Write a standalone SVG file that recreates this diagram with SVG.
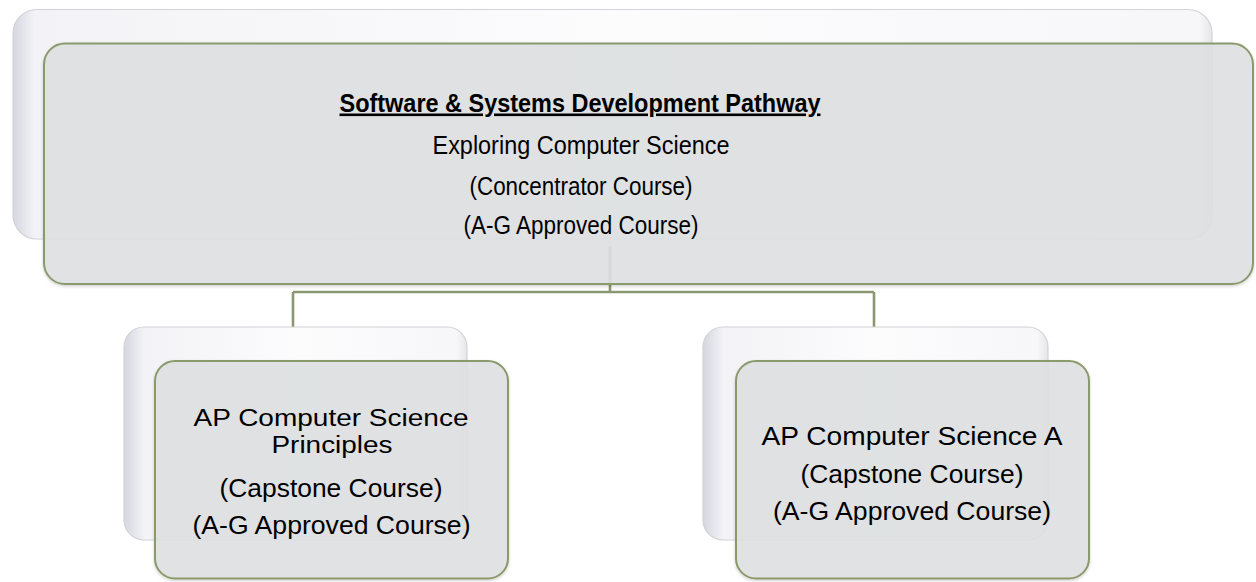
<svg xmlns="http://www.w3.org/2000/svg" width="1256" height="582" viewBox="0 0 1256 582">
  <defs>
    <linearGradient id="backH" x1="0" y1="0" x2="1" y2="0">
      <stop offset="0" stop-color="#d6d6e0"/>
      <stop offset="0.018" stop-color="#f3f3f7"/>
      <stop offset="0.5" stop-color="#fcfcfd"/>
      <stop offset="0.99" stop-color="#f7f7f9"/>
      <stop offset="1" stop-color="#e6e6ea"/>
    </linearGradient>
    <linearGradient id="backHs" x1="0" y1="0" x2="1" y2="0">
      <stop offset="0" stop-color="#d6d6e0"/>
      <stop offset="0.06" stop-color="#f3f3f7"/>
      <stop offset="0.5" stop-color="#fcfcfd"/>
      <stop offset="0.97" stop-color="#f7f7f9"/>
      <stop offset="1" stop-color="#e6e6ea"/>
    </linearGradient>
    <filter id="sh" x="-5%" y="-5%" width="110%" height="115%">
      <feDropShadow dx="0" dy="1.5" stdDeviation="1.5" flood-color="#000" flood-opacity="0.18"/>
    </filter>
  </defs>
  <style>
    .back { stroke: #d2d2d8; stroke-width: 1.2; }
    .front { fill: #dfe1e2; fill-opacity: 0.9; stroke: #8b9a6c; stroke-width: 2; }
    .t { font-family: "Liberation Sans", Arial, sans-serif; fill: #000; text-anchor: middle; }
    .big { font-size: 26px; }
    .title { font-weight: bold; text-decoration: underline; }
    .sm { font-size: 25px; }
    .tight { font-size: 23px; }
    .conn { fill: none; stroke: #8a9770; stroke-width: 2.6; }
  </style>
  <rect width="1256" height="582" fill="#ffffff"/>

  <g id="connectors">
    <path class="conn" d="M610,246 V292 M293,292 H874 M293,292 V327 M874,292 V327"/>
  </g>

  <g id="node-top">
    <rect class="back" x="13" y="9.5" width="1199" height="229.5" rx="24" fill="url(#backH)"/>
    <rect class="front" x="44" y="43.5" width="1209" height="240.5" rx="21" filter="url(#sh)"/>
    <text class="t big title" x="580" y="111.5" textLength="481" lengthAdjust="spacingAndGlyphs">Software &amp; Systems Development Pathway</text>
    <text class="t big" x="581" y="153.5" textLength="297" lengthAdjust="spacingAndGlyphs">Exploring Computer Science</text>
    <text class="t big" x="581" y="195" textLength="223" lengthAdjust="spacingAndGlyphs">(Concentrator Course)</text>
    <text class="t big" x="581" y="234" textLength="235" lengthAdjust="spacingAndGlyphs">(A-G Approved Course)</text>
  </g>

  <g id="node-apcsp">
    <rect class="back" x="124" y="327" width="343" height="213" rx="20" fill="url(#backHs)"/>
    <rect class="front" x="155" y="361" width="353" height="217.5" rx="20" filter="url(#sh)"/>
    <text class="t tight" x="331" y="426" textLength="275" lengthAdjust="spacingAndGlyphs">AP Computer Science</text>
    <text class="t tight" x="332" y="453" textLength="121" lengthAdjust="spacingAndGlyphs">Principles</text>
    <text class="t sm" x="331" y="497" textLength="223" lengthAdjust="spacingAndGlyphs">(Capstone Course)</text>
    <text class="t sm" x="331.5" y="534" textLength="278" lengthAdjust="spacingAndGlyphs">(A-G Approved Course)</text>
  </g>

  <g id="node-apcsa">
    <rect class="back" x="703" y="327" width="345" height="213" rx="20" fill="url(#backHs)"/>
    <rect class="front" x="736" y="361" width="353" height="217.5" rx="20" filter="url(#sh)"/>
    <text class="t sm" x="912" y="445" textLength="301" lengthAdjust="spacingAndGlyphs">AP Computer Science A</text>
    <text class="t sm" x="912" y="483" textLength="223" lengthAdjust="spacingAndGlyphs">(Capstone Course)</text>
    <text class="t sm" x="912" y="520" textLength="278" lengthAdjust="spacingAndGlyphs">(A-G Approved Course)</text>
  </g>
</svg>
